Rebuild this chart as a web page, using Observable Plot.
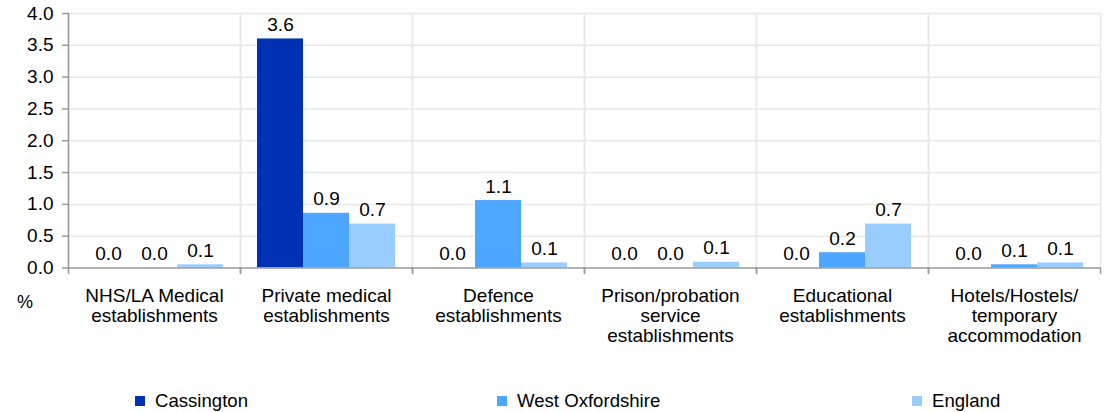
<!DOCTYPE html>
<html>
<head>
<meta charset="utf-8">
<script src="https://cdn.jsdelivr.net/npm/d3@7"></script>
<script src="https://cdn.jsdelivr.net/npm/@observablehq/plot@0.6"></script>
<style>
  html, body { margin: 0; padding: 0; background: #fff; }
  #wrap { position: relative; width: 1106px; height: 412px; font-family: "Liberation Sans", Arial, sans-serif; color: #000; }
  #pct { position: absolute; left: 17px; top: 292px; font-size: 18px; line-height: 20px; }
  #legend { position: absolute; left: 0; top: 375px; width: 1106px; height: 37px; font-size: 18.6px; }
  .item { position: absolute; top: 16px; display: flex; align-items: center; white-space: nowrap; line-height: 20px; }
  .sw { width: 10px; height: 10px; margin-right: 10px; }
</style>
</head>
<body>
<div id="wrap">
  <div id="chart"></div>
  <div id="pct">%</div>
  <div id="legend"></div>
</div>
<script>
const categories = ["NHS/LA Medical establishments", "Private medical establishments", "Defence establishments", "Prison/probation service establishments", "Educational establishments", "Hotels/Hostels/ temporary accommodation"];
const categoryLabels = ["NHS/LA Medical\nestablishments", "Private medical\nestablishments", "Defence\nestablishments", "Prison/probation\nservice\nestablishments", "Educational\nestablishments", "Hotels/Hostels/\ntemporary\naccommodation"];
const series = ["Cassington", "West Oxfordshire", "England"];
const cassington = [0.0, 3.6, 0.0, 0.0, 0.0, 0.0];
const westOxfordshire = [0.0, 0.86, 1.06, 0.0, 0.24, 0.05];
const england = [0.05, 0.69, 0.08, 0.09, 0.69, 0.08];
const colors = ["#0030b4", "#4da6ff", "#99ccff"];
const yTicks = [0, 0.5, 1, 1.5, 2, 2.5, 3, 3.5, 4];
const legendLeft = [135, 497, 912];

const seriesValues = [cassington, westOxfordshire, england];
const data = [];
categories.forEach((c, i) => {
  series.forEach((s, j) => data.push({category: c, series: s, value: seriesValues[j][i]}));
});
const fmt = d3.format(".1f");
const labelOf = new Map(categories.map((c, i) => [c, categoryLabels[i]]));

const chart = Plot.plot({
  width: 1106,
  height: 375,
  marginLeft: 67,
  marginRight: 6,
  marginTop: 13,
  marginBottom: 107.5,
  style: {fontFamily: "'Liberation Sans', Arial, sans-serif", fontSize: "19px", color: "#000", background: "#fff"},
  fx: {domain: categories, padding: 0, label: null, axis: null},
  x: {domain: series, paddingInner: 0, paddingOuter: 0.35, axis: null},
  y: {domain: [0, 4], label: null, axis: null},
  color: {domain: series, range: colors},
  marks: [
    Plot.gridY(yTicks.filter(d => d > 0), {stroke: "#e8e8e8", strokeOpacity: 1, strokeWidth: 1.5}),
    Plot.frame({anchor: "left", stroke: "#e8e8e8", strokeWidth: 1.5}),
    Plot.frame({anchor: "right", stroke: "#e8e8e8", strokeWidth: 1.5}),
    Plot.frame({anchor: "left", stroke: "#999", strokeWidth: 1.5, insetTop: 254.5, insetBottom: -5}),
    Plot.frame({anchor: "right", stroke: "#999", strokeWidth: 1.5, insetTop: 254.5, insetBottom: -5}),
    Plot.barY(data, {fx: "category", x: "series", y: "value", fill: "series"}),
    Plot.text(data, {fx: "category", x: "series", y: "value", text: d => fmt(d.value), lineAnchor: "bottom", dy: -8, fill: "#000", fontSize: 19}),
    Plot.ruleY([0], {stroke: "#999", strokeWidth: 1.5}),
    Plot.frame({anchor: "left", stroke: "#999", strokeWidth: 1.5, facetAnchor: "left"}),
    Plot.axisY({ticks: yTicks, tickFormat: ".1f", tickSize: 6, tickPadding: 9, stroke: "#999", strokeWidth: 1.5, label: null, fontSize: 19}),
    Plot.axisFx({anchor: "bottom", tickSize: 0, tickPadding: 20, tickFormat: d => labelOf.get(d), lineHeight: 1.05, label: null, fontSize: 19})
  ]
});
document.getElementById("chart").appendChild(chart);

const legend = document.getElementById("legend");
series.forEach((s, i) => {
  const item = document.createElement("div");
  item.className = "item";
  item.style.left = legendLeft[i] + "px";
  const sw = document.createElement("span");
  sw.className = "sw";
  sw.style.background = colors[i];
  const t = document.createElement("span");
  t.textContent = s;
  item.appendChild(sw);
  item.appendChild(t);
  legend.appendChild(item);
});
</script>
</body>
</html>
